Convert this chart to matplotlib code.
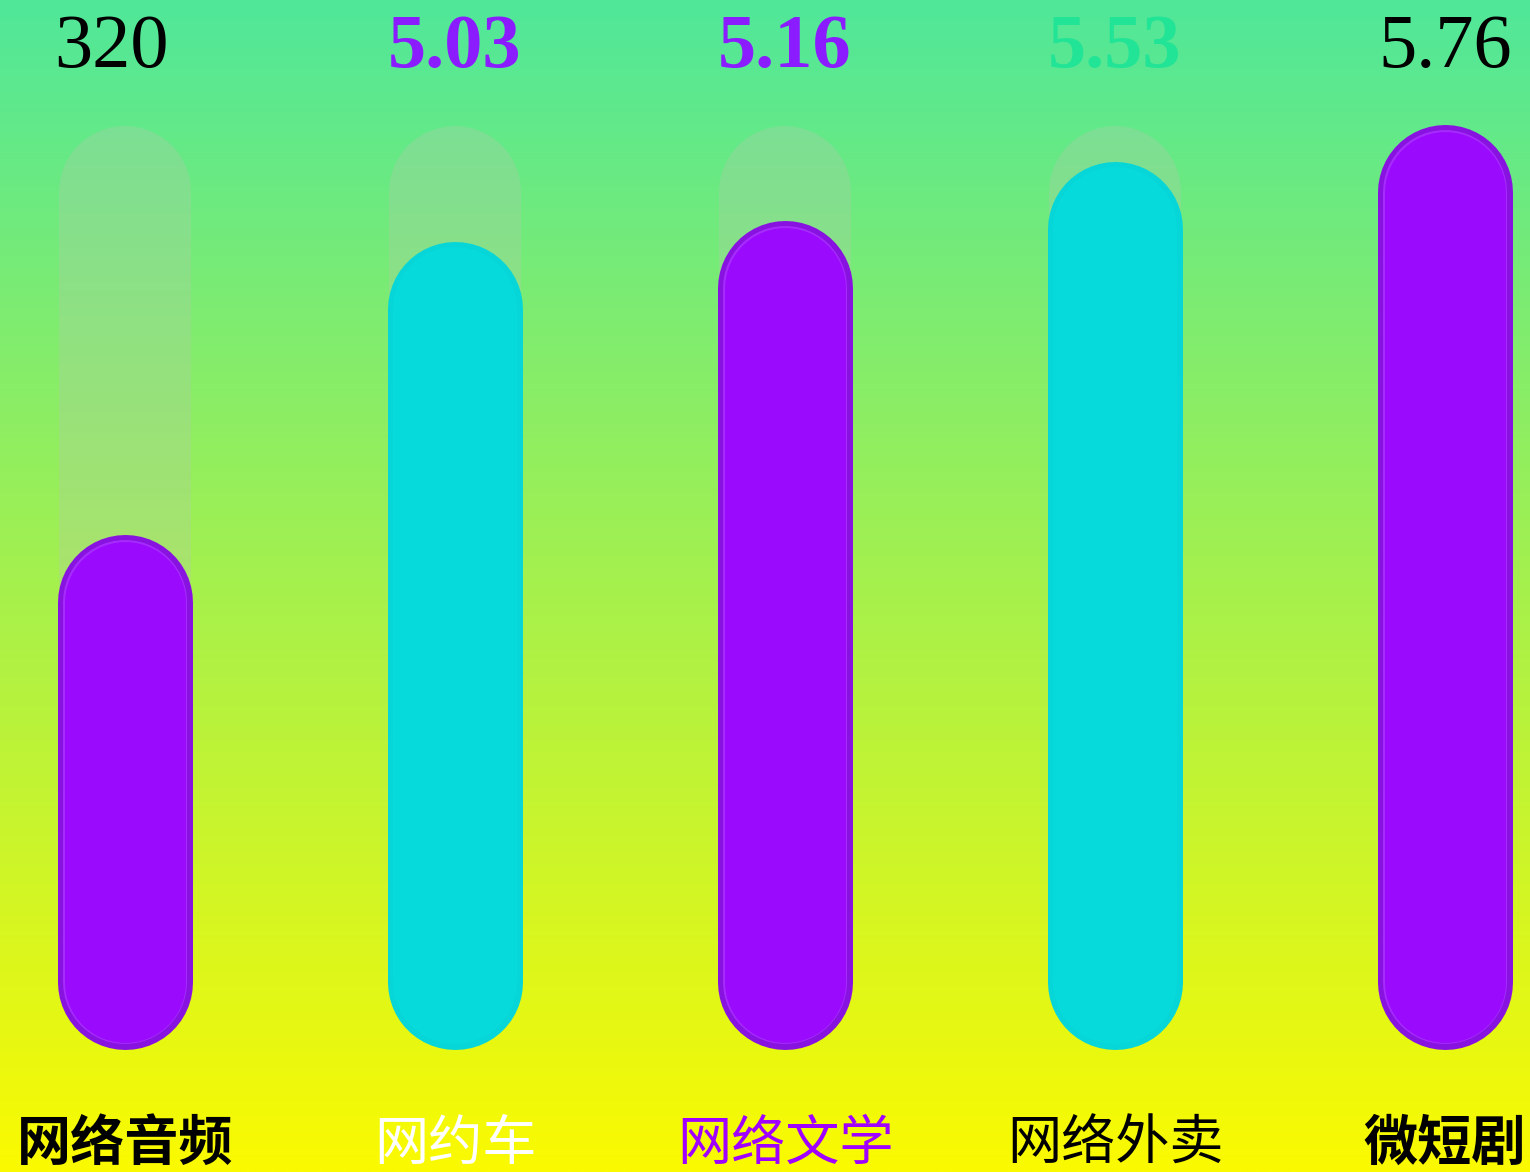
import numpy as np
import matplotlib.pyplot as plt
from matplotlib.colors import to_rgb

# 数据
categories = ['网络音频', '网约车', '网络文学', '网络外卖', '微短剧']
values = [3.20, 5.03, 5.16, 5.53, 5.76]
value_text = ['320', '5.03', '5.16', '5.53', '5.76']

bar_colors = ['#9a0afc', '#06dada', '#9a0afc', '#06dada', '#9a0afc']
edge_colors = ['#8812e0', '#06d6d8', '#8812e0', '#06d6d8', '#8812e0']
inner_colors = ['#a62cfc', '#06dada', '#a62cfc', '#06dada', '#a62cfc']
value_colors = ['black', '#8a1cff', '#8a1cff', '#22e496', 'black']
value_weights = ['normal', 'bold', 'bold', 'bold', 'normal']
label_colors = ['black', 'white', '#a000ff', 'black', 'black']
label_weights = ['bold', 'normal', 'normal', 'normal', 'bold']

W, H = 1530, 1172
DPI = 100
fig = plt.figure(figsize=(W / DPI, H / DPI), dpi=DPI)
ax = fig.add_axes([0, 0, 1, 1])

# 像素 -> 数据 的换算
px_x = 330.0           # 每个类别间距
px_y = 160.0           # 每单位数值
x0_px, base_px = 125, 1048
xlim = (-x0_px / px_x, (W - x0_px) / px_x)
ylim = (-(H - base_px) / px_y, base_px / px_y)
ax.set_xlim(*xlim)
ax.set_ylim(*ylim)
ax.axis('off')

# 渐变背景
top = np.array(to_rgb('#50e79a'))
bot = np.array(to_rgb('#fbfa00'))
t = np.linspace(0, 1, 400)[:, None]
grad = (top * (1 - t) + bot * t)[:, None, :]
ax.imshow(grad, extent=[xlim[0], xlim[1], ylim[0], ylim[1]],
          aspect='auto', zorder=0, origin='upper')

bar_px = 132                       # 柱宽(像素)
r = bar_px / 2 / px_y              # 圆头半径(数据单位)
pt = 72 / DPI                      # 像素 -> 磅
vmax = max(values)


def pill(x, top_val, width_px, **kw):
    # 圆头线段 = 胶囊形
    ax.plot([x, x], [r, top_val - r], lw=width_px * pt,
            solid_capstyle='round', **kw)


for i, v in enumerate(values):
    pill(i, vmax, bar_px, color='#b8c8ae', alpha=0.3, zorder=1)
    pill(i, v, bar_px + 3, color=edge_colors[i], zorder=2)
    pill(i, v, bar_px - 8, color=inner_colors[i], zorder=3)
    pill(i, v, bar_px - 11, color=bar_colors[i], zorder=4)

    ax.text(i - (0.04 if i == 0 else 0), 6.25, value_text[i], ha='center', va='center',
            fontsize=55, family='Liberation Serif', color=value_colors[i],
            fontweight=value_weights[i], zorder=5)

    ax.text(i, -0.6, categories[i], ha='center', va='center', fontsize=39,
            family=['Noto Sans CJK SC', 'DejaVu Sans'], color=label_colors[i],
            fontweight=label_weights[i], zorder=5)

fig.savefig('out.png', dpi=DPI)
